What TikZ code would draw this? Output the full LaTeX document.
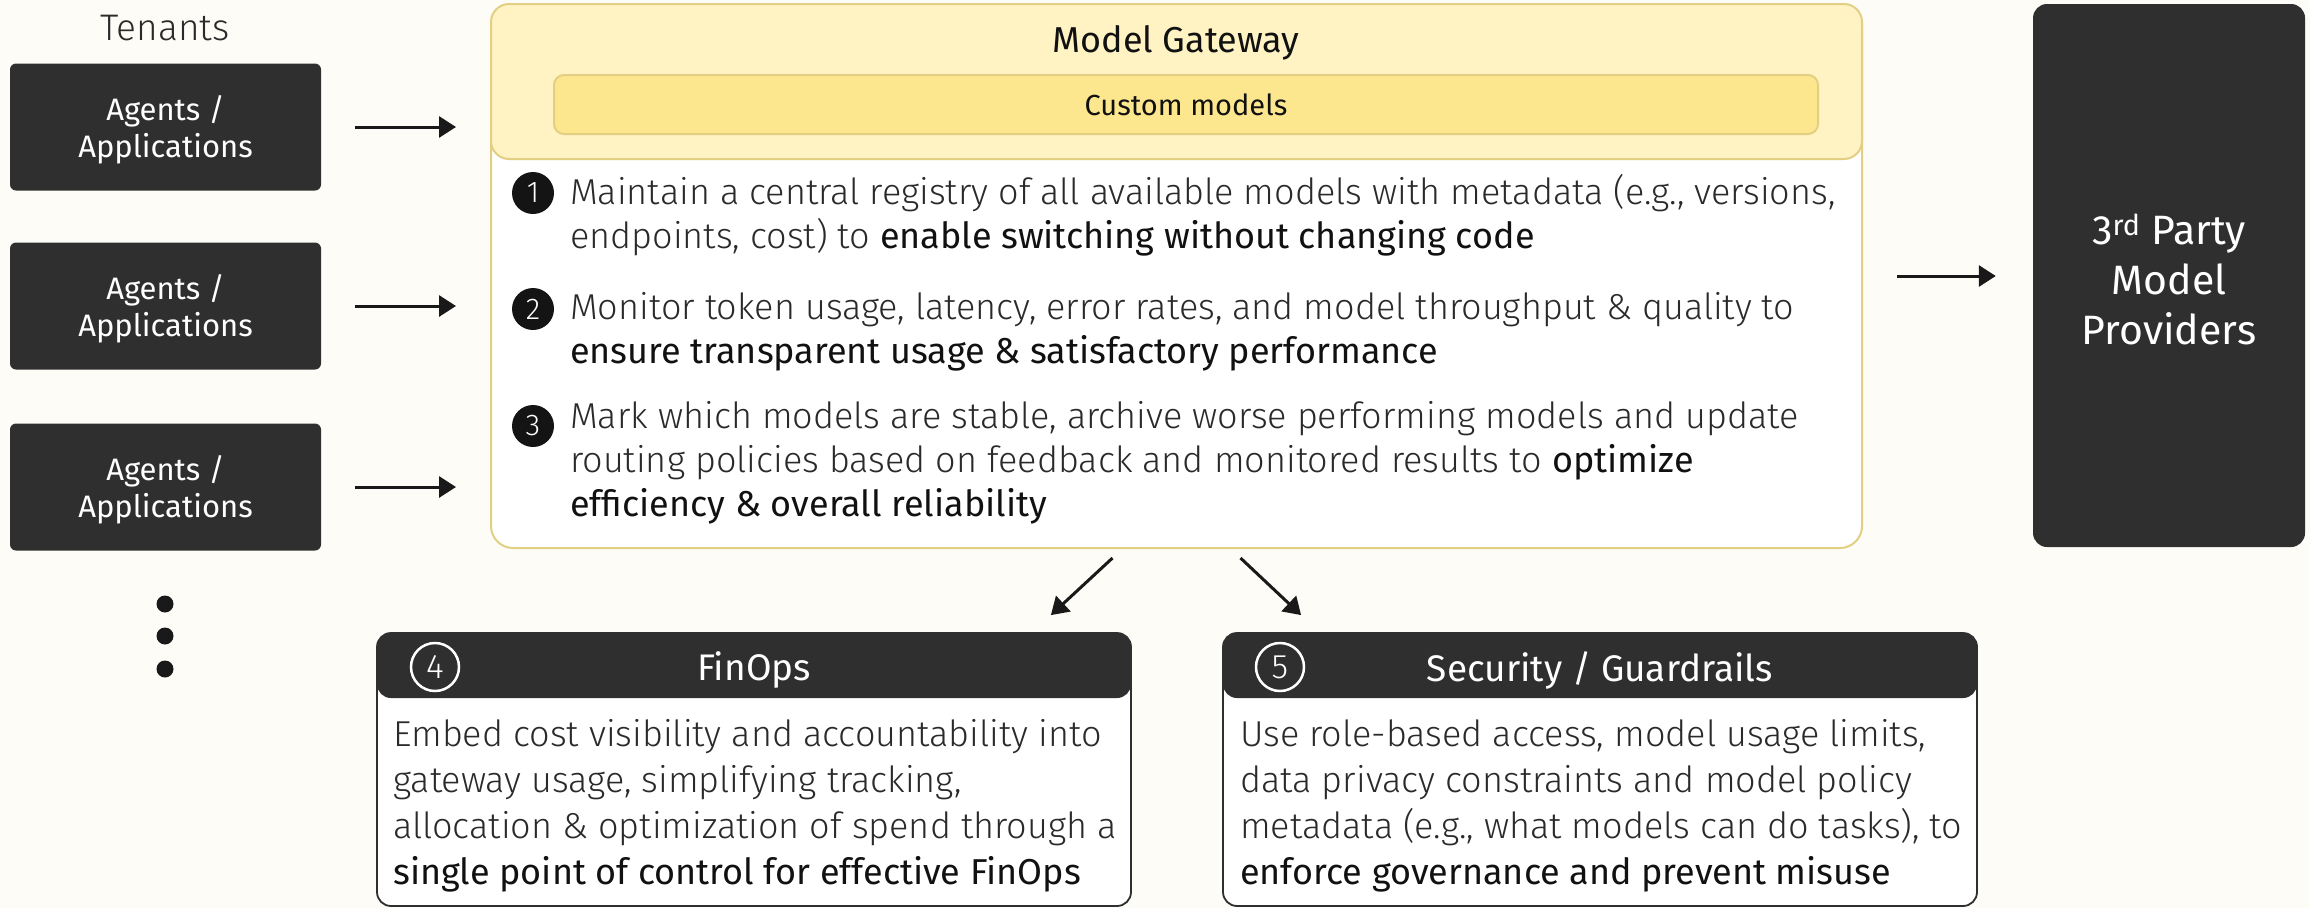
\documentclass[tikz,border=0pt]{standalone}
\usepackage{fontspec}
\setmainfont{Fira Sans}
\newfontfamily\bodyL{Fira Sans Light}
\newfontfamily\bodyR{Fira Sans}
\usetikzlibrary{arrows.meta,calc}
\newcommand\firstln{\rule{0pt}{0.9em}}
\newcommand\firstlnb{\rule{0pt}{1em}}
\definecolor{bg}{HTML}{FDFCF7}
\definecolor{dark}{HTML}{2F2F2F}
\definecolor{hdr}{HTML}{FFF3C4}
\definecolor{bar}{HTML}{FDE78E}
\definecolor{gborder}{HTML}{E3CF84}
\definecolor{txt}{HTML}{2A2A2A}
\definecolor{txtb}{HTML}{111111}
\tikzset{
  agent/.style={fill=dark, rounded corners=6pt, minimum width=311pt, minimum height=127pt, text=white, align=center, inner sep=0pt, font=\bodyR\fontsize{31}{37}\selectfont},
  arr/.style={line width=3pt, draw=black!90, -{Triangle[length=17pt,width=21pt]}},
  dotnode/.style={circle, fill=black!90, minimum size=17pt, inner sep=0pt},
  num/.style={circle, fill=black!92, text=white, minimum size=42pt, inner sep=0pt, font=\bodyL\fontsize{30}{30}\selectfont},
  numw/.style={circle, fill=dark, draw=white, line width=2.5pt, text=white, minimum size=48pt, inner sep=0pt, font=\bodyL\fontsize{34}{34}\selectfont},
  item/.style={anchor=north west, inner sep=0pt, align=left, text=txt, font=\bodyL\fontsize{36}{44}\selectfont},
  card/.style={draw=dark, line width=1.8pt, fill=white, rounded corners=14pt, minimum width=754pt, minimum height=273pt, inner sep=0pt},
  cardhead/.style={fill=dark, rounded corners=14pt, minimum width=754pt, minimum height=65pt, inner sep=0pt},
  cardtitle/.style={text=white, font=\bodyR\fontsize{37}{37}\selectfont, inner sep=0pt}
}
\begin{document}
\begin{tikzpicture}[x=1pt,y=-1pt]
\fill[bg] (0,0) rectangle (2310,908);
\useasboundingbox (0,0) rectangle (2310,908);

% tenants
\node[font=\bodyL\fontsize{37}{37}\selectfont, text=txt] (ten) at (165,28) {Tenants};
\node[agent] (a1) at (165.5,127) {\firstlnb Agents /\\Applications};
\node[agent] (a2) at (165.5,306) {\firstlnb Agents /\\Applications};
\node[agent] (a3) at (165.5,487) {\firstlnb Agents /\\Applications};
\node[dotnode] (d1) at (165,604) {};
\node[dotnode] (d2) at (165,636) {};
\node[dotnode] (d3) at (165,669) {};

% gateway
\node[draw=gborder, line width=2pt, fill=white, rounded corners=22pt, minimum width=1371pt, minimum height=544pt, inner sep=0pt] (gw) at (1176.5,276) {};
\node[draw=gborder, line width=2pt, fill=hdr, rounded corners=18pt, minimum width=1371pt, minimum height=155pt, inner sep=0pt] (gwh) at (1176.5,81.5) {};
\node[font=\bodyR\fontsize{36}{36}\selectfont, text=txtb] (gwt) at (1176,43) {Model Gateway};
\node[draw=gborder, line width=2pt, fill=bar, rounded corners=10pt, minimum width=1264pt, minimum height=59pt, inner sep=0pt, font=\bodyR\fontsize{29}{29}\selectfont, text=txtb] (cm) at (1186,104.5) {Custom models};

\node[num] (n1) at (533,193) {1};
\node[item] (t1) at (570,172) {\firstln Maintain a central registry of all available models with metadata (e.g., versions,\\endpoints, cost) to {\bodyR\color{txtb} enable switching without changing code}};
\node[num] (n2) at (533,309) {2};
\node[item] (t2) at (570,287) {\firstln Monitor token usage, latency, error rates, and model throughput \& quality to\\{\bodyR\color{txtb} ensure transparent usage \& satisfactory performance}};
\node[num] (n3) at (533,426) {3};
\node[item] (t3) at (570,396) {\firstln Mark which models are stable, archive worse performing models and update\\routing policies based on feedback and monitored results to {\bodyR\color{txtb} optimize}\\{\bodyR\color{txtb} efficiency \& overall reliability}};

% third party
\node[fill=dark, rounded corners=14pt, minimum width=272pt, minimum height=543pt, inner sep=0pt, text=white, align=center, font=\bodyR\fontsize{41}{50}\selectfont] (tp) at (2169,275.5) {\rule{0pt}{0.95em}3\textsuperscript{rd} Party\\Model\\Providers};

% FinOps
\node[card] (fin) at (754,769.5) {};
\node[cardhead] (finh) at (754,665.5) {};
\node[numw] (n4) at (435,667) {4};
\node[cardtitle] (fint) at (754,670) {FinOps};
\node[item, font=\bodyL\fontsize{36}{46}\selectfont] (fintx) at (393,714) {\firstln Embed cost visibility and accountability into\\gateway usage, simplifying tracking,\\allocation \& optimization of spend through a\\{\bodyR\color{txtb} single point of control for effective FinOps}};

% Security
\node[card] (sec) at (1600,769.5) {};
\node[cardhead] (sech) at (1600,665.5) {};
\node[numw] (n5) at (1280,667) {5};
\node[cardtitle] (sect) at (1600,670) {Security / Guardrails};
\node[item, font=\bodyL\fontsize{36}{46}\selectfont] (sectx) at (1240,714) {\firstln Use role-based access, model usage limits,\\data privacy constraints and model policy\\metadata (e.g., what models can do tasks), to\\{\bodyR\color{txtb} enforce governance and prevent misuse}};

% connectors
\draw[arr, shorten <=34pt, shorten >=34pt] (a1.east) -- (a1.east -| gw.west);
\draw[arr, shorten <=34pt, shorten >=34pt] (a2.east) -- (a2.east -| gw.west);
\draw[arr, shorten <=34pt, shorten >=34pt] (a3.east) -- (a3.east -| gw.west);
\draw[arr, shorten <=34pt, shorten >=37pt] (gw.east) -- (gw.east -| tp.west);
\draw[arr] ([xshift=-64pt,yshift=-9pt]gw.south) -- ([xshift=-81pt,yshift=17pt]fin.north east);
\draw[arr] ([xshift=64pt,yshift=-9pt]gw.south) -- ([xshift=79pt,yshift=17pt]sec.north west);
\end{tikzpicture}
\end{document}
